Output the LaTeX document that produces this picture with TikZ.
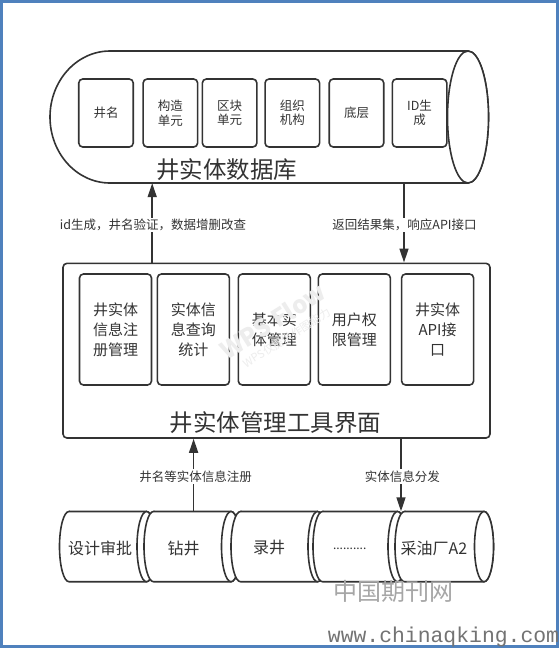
\documentclass[tikz,border=0pt]{standalone}
\usepackage{fontspec}
\setmainfont{Noto Sans CJK SC}
\newfontfamily\wwwfont{Liberation Mono}
\usetikzlibrary{arrows.meta}
\definecolor{ink}{HTML}{333333}
\definecolor{frameblue}{RGB}{79,129,189}
\begin{document}
\begin{tikzpicture}[x=1pt,y=-1pt,
  shp/.style={draw=ink, line width=1.6pt, fill=white},
  dbbox/.style={shp, rounded corners=4pt, minimum width=54.5pt, minimum height=68pt, inner sep=0pt, align=center, font=\fontsize{12.5}{14.5}\selectfont, text=ink},
  mbox/.style={shp, rounded corners=4pt, minimum width=72pt, minimum height=111pt, inner sep=0pt, align=center, font=\fontsize{15}{20}\selectfont, text=ink},
  lbl/.style={fill=white, inner sep=1.5pt, font=\fontsize{12.5}{14}\selectfont, text=ink},
  arr/.style={draw=ink, line width=1.6pt, -{Triangle[length=14pt,width=9pt]}},
  bigtitle/.style={font=\fontsize{23.5}{26}\selectfont, text=ink},
  ctext/.style={font=\fontsize{16}{18}\selectfont, text=ink},
  hold/.style={inner sep=0pt, draw=none},
]
\useasboundingbox (0,0) rectangle (559,649);
\fill[white] (0,0) rectangle (559,649);
\draw[frameblue, line width=3pt] (1.5,1.5) rectangle (557.5,646.5);

% database cylinder
\path[shp] (468,51) -- (110,51) arc[start angle=90,end angle=270,x radius=60pt,y radius=66pt] -- (468,183) arc[start angle=270,end angle=450,x radius=20.5pt,y radius=66pt] -- cycle;
\draw[shp] (468,117) ellipse[x radius=20.5pt,y radius=66pt];
\node[hold, minimum width=418pt, minimum height=132pt] (db) at (259,117) {};

\node[dbbox] (d1) at (106,113) {井名};
\node[dbbox] (d2) at (170.4,113) {构造\\单元};
\node[dbbox] (d3) at (229.6,113) {区块\\单元};
\node[dbbox] (d4) at (292.3,113) {组织\\机构};
\node[dbbox] (d5) at (356.5,113) {底层};
\node[dbbox] (d6) at (419.6,113) {ID生\\成};
\node[bigtitle] (dbt) at (226.5,170) {井实体数据库};

% manager box
\node[shp, rounded corners=4pt, minimum width=427pt, minimum height=174.7pt, inner sep=0pt] (mgr) at (276.5,350.65) {};
\node[mbox] (m1) at (115.5,329.5) {井实体\\信息注\\册管理};
\node[mbox] (m2) at (193.4,329.5) {实体信\\息查询\\统计};
\node[mbox] (m3) at (274.3,329.5) {基本实\\体管理};
\node[mbox] (m4) at (354.4,329.5) {用户权\\限管理};
\node[mbox] (m5) at (437.6,329.5) {井实体\\API接\\口};
\node[bigtitle] (mgt) at (275.7,422.7) {井实体管理工具界面};

% bottom cylinders
\foreach \a/\b in {69/146.5, 153.5/231, 240.5/317.5, 322.5/397.5, 404.5/484} {
  \path[shp] (\a,511.5) -- (\b,511.5) arc[start angle=90,end angle=-90,x radius=9.5pt,y radius=35.1pt] -- (\a,581.7) arc[start angle=270,end angle=90,x radius=9.5pt,y radius=35.1pt] -- cycle;
  \draw[shp] (\b,546.6) ellipse[x radius=9.5pt,y radius=35.1pt];
}
\node[hold, minimum width=434pt, minimum height=70.2pt] (row) at (276.5,546.6) {};
\node[ctext] (t1) at (100,548) {设计审批};
\node[ctext] (t2) at (183.5,548) {钻井};
\node[ctext] (t3) at (269,548) {录井};
\node[ctext, font=\fontsize{12}{14}\selectfont] (t4) at (349.7,549) {..........};
\node[ctext] (t5) at (434,548) {采油厂A2};

% connectors
\coordinate (xa) at (152.2,0);
\coordinate (xb) at (404,0);
\coordinate (xc) at (193.6,0);
\coordinate (xd) at (401,0);
\draw[arr] (xa |- mgr.north) -- (xa |- db.south);
\draw[arr] (xb |- db.south) -- (xb |- mgr.north);
\draw[arr] (xc |- row.north) -- (xc |- mgr.south);
\draw[arr] (xd |- mgr.south) -- (xd |- row.north);
\node[lbl] (l1) at (153,225) {id生成，井名验证，数据增删改查};
\node[lbl] (l2) at (404.5,225) {返回结果集，响应API接口};
\node[lbl] (l3) at (195.6,476.7) {井名等实体信息注册};
\node[lbl] (l4) at (402.3,476.7) {实体信息分发};

% watermarks
\node[rotate=32, text=black!7, font=\bfseries\fontsize{24}{24}\selectfont] (w1) at (273,321) {WPS Flow};
\node[rotate=32, text=black!7, font=\fontsize{11}{12}\selectfont] (w2) at (287,338) {WPS仅提供作图能力};
\node[text=black!35, font=\fontsize{24}{24}\selectfont, inner sep=0pt] (w3) at (393,591) {中国期刊网};
\node[text=black!55, font=\wwwfont\fontsize{21.4}{22}\selectfont, inner sep=0pt] (w4) at (443.5,637) {www.chinaqking.com};
\end{tikzpicture}
\end{document}
